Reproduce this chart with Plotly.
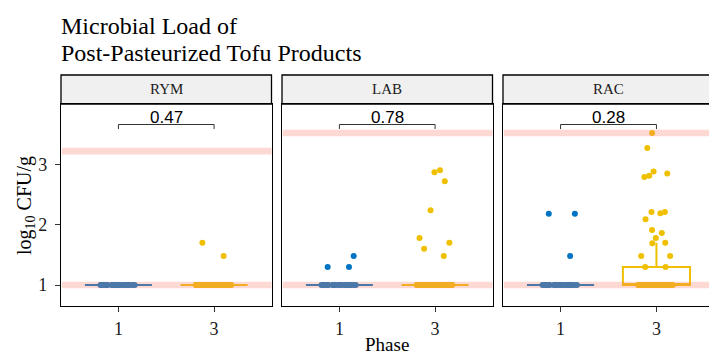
import plotly.graph_objects as go

# ---------------- data (log10 CFU/g) ----------------
PANELS = ["RYM", "LAB", "RAC"]
PHASES = ["1", "3"]
LOD = 1.0

# samples above the detection limit; the rest sit at the LOD
RYM_PHASE1_ABOVE = []
RYM_PHASE3_ABOVE = [1.70, 1.48]
LAB_PHASE1_ABOVE = [1.48, 1.30, 1.30]
LAB_PHASE3_ABOVE = [2.87, 2.90, 2.72, 2.24, 1.78, 1.70, 1.60, 1.48]
RAC_PHASE1_ABOVE = [2.18, 2.18, 1.48]
RAC_PHASE3_ABOVE = [3.52, 3.27, 2.81, 2.85, 2.88, 2.79, 2.09, 2.19, 2.21, 2.21,
                    1.91, 1.86, 1.78, 1.70, 1.69, 1.48, 1.48, 1.30, 1.30]

# number of samples at the LOD
RYM_PHASE1_AT_LOD = 30
RYM_PHASE3_AT_LOD = 68
LAB_PHASE1_AT_LOD = 27
LAB_PHASE3_AT_LOD = 62
RAC_PHASE1_AT_LOD = 27
RAC_PHASE3_AT_LOD = 51

P_VALUES = ["0.47", "0.78", "0.28"]
UPPER_REF = [3.22, 3.52, 3.52]
LOWER_REF = [1.0, 1.0, 1.0]
Y_TICKS = [1, 2, 3]

ABOVE = {
    "RYM": (RYM_PHASE1_ABOVE, RYM_PHASE3_ABOVE),
    "LAB": (LAB_PHASE1_ABOVE, LAB_PHASE3_ABOVE),
    "RAC": (RAC_PHASE1_ABOVE, RAC_PHASE3_ABOVE),
}
AT_LOD = {
    "RYM": (RYM_PHASE1_AT_LOD, RYM_PHASE3_AT_LOD),
    "LAB": (LAB_PHASE1_AT_LOD, LAB_PHASE3_AT_LOD),
    "RAC": (RAC_PHASE1_AT_LOD, RAC_PHASE3_AT_LOD),
}

# ---------------- style / layout ----------------
W, H = 709, 356
COLORS = ["#0073C2", "#EFC000"]
SERIF = "Liberation Serif, Times New Roman, serif"
SANS = "Liberation Sans, Arial, sans-serif"
PANEL_PX = [(61, 271.5), (282, 492.5), (503, 714)]
TOP_PX, BOT_PX = 104, 306
STRIP_TOP_PX = 75
YRANGE = [0.652, 4.0]
XSPAN = 2.2
JITTER = 0.55

def px_x(p):
    return p / W

def px_y(p):
    return 1 - p / H

fig = go.Figure()
shapes = []
annotations = []

for i, name in enumerate(PANELS):
    k = "" if i == 0 else str(i + 1)
    xa, ya = "x" + k, "y" + k
    x0p, x1p = PANEL_PX[i]
    right = min(x1p, W)
    xr = [-0.6, -0.6 + XSPAN * (right - x0p) / (x1p - x0p)]

    for j, ph in enumerate(PHASES):
        above = ABOVE[name][j]
        at_lod = [LOD] * AT_LOD[name][j]
        vals = above + at_lod
        # box (statistics from all samples; outlier markers hidden)
        fig.add_trace(go.Box(
            x=[ph] * len(vals), y=vals, xaxis=xa, yaxis=ya,
            boxpoints="outliers", width=0.7, whiskerwidth=0,
            fillcolor="rgba(0,0,0,0)",
            marker=dict(opacity=0, size=1),
            line=dict(color=COLORS[j], width=2),
            showlegend=False, hoverinfo="y"))
        # jittered sample points (two groups so that sparse points spread too)
        for grp in (at_lod, above):
            if not grp:
                continue
            fig.add_trace(go.Box(
                x=[ph] * len(grp), y=grp, xaxis=xa, yaxis=ya,
                boxpoints="all", jitter=JITTER, pointpos=0, width=0.7,
                whiskerwidth=0, fillcolor="rgba(0,0,0,0)",
                line=dict(color="rgba(0,0,0,0)", width=0),
                marker=dict(color=COLORS[j], size=6, opacity=1, line=dict(width=0)),
                showlegend=False, hoverinfo="y"))

    # significance bracket
    fig.add_trace(go.Scatter(
        x=[PHASES[0], PHASES[0], PHASES[1], PHASES[1]],
        y=[3.585, 3.66, 3.66, 3.585], xaxis=xa, yaxis=ya,
        mode="lines", line=dict(color="#333333", width=1),
        showlegend=False, hoverinfo="skip"))
    annotations.append(dict(
        x=0.5, y=3.66, xref=xa, yref=ya, text=P_VALUES[i], showarrow=False,
        xanchor="center", yanchor="bottom", yshift=-4,
        font=dict(family=SANS, size=17, color="black")))

    # reference bands
    for v in (LOWER_REF[i], UPPER_REF[i]):
        shapes.append(dict(type="rect", xref=xa + " domain", yref=ya,
                           x0=0.004, x1=1, y0=v - 0.055, y1=v + 0.055,
                           fillcolor="rgb(250,128,114)", opacity=0.3,
                           line=dict(width=0), layer="above"))

    # strip
    shapes.append(dict(type="rect", xref="paper", yref="paper",
                       x0=px_x(x0p), x1=px_x(x1p), y0=px_y(TOP_PX), y1=px_y(STRIP_TOP_PX),
                       fillcolor="#F0F0F0", line=dict(color="black", width=1.3),
                       layer="below"))
    annotations.append(dict(x=px_x((x0p + x1p) / 2), y=px_y((TOP_PX + STRIP_TOP_PX) / 2),
                            xref="paper", yref="paper", text=name, showarrow=False,
                            xanchor="center", yanchor="middle",
                            font=dict(family=SERIF, size=15, color="#1a1a1a")))

    fig.update_layout(**{
        "xaxis" + k: dict(
            domain=[px_x(x0p), min(px_x(x1p), 1.0)], anchor=ya,
            type="category", categoryorder="array", categoryarray=PHASES,
            range=xr, showgrid=False, zeroline=False,
            showline=True, linecolor="black", linewidth=1.3, mirror=True,
            ticks="outside", ticklen=5, tickcolor="#333333", tickwidth=1,
            ticklabelstandoff=1,
            tickfont=dict(family=SERIF, size=18, color="#1a1a1a")),
        "yaxis" + k: dict(
            domain=[px_y(BOT_PX), px_y(TOP_PX)], anchor=xa, range=YRANGE,
            showgrid=False, zeroline=False,
            showline=True, linecolor="black", linewidth=1.3,
            mirror=(i < 2),
            tickmode="array", tickvals=Y_TICKS if i == 0 else [],
            showticklabels=(i == 0),
            ticks="outside" if i == 0 else "", ticklen=5, tickcolor="#333333",
            ticklabelstandoff=4,
            tickfont=dict(family=SERIF, size=18, color="#1a1a1a")),
    })

# titles
annotations.append(dict(x=px_x(59), y=px_y(26), xref="paper", yref="paper",
                        xanchor="left", yanchor="middle", showarrow=False,
                        text="Microbial Load of",
                        font=dict(family=SERIF, size=24, color="black")))
annotations.append(dict(x=px_x(59), y=px_y(53), xref="paper", yref="paper",
                        xanchor="left", yanchor="middle", showarrow=False,
                        text="Post-Pasteurized Tofu Products",
                        font=dict(family=SERIF, size=24, color="black")))
annotations.append(dict(x=px_x(387), y=px_y(344), xref="paper", yref="paper",
                        xanchor="center", yanchor="middle",
                        showarrow=False, text="Phase",
                        font=dict(family=SERIF, size=19, color="black")))
annotations.append(dict(x=px_x(25), y=px_y(206), xref="paper", yref="paper",
                        xanchor="center", yanchor="middle",
                        showarrow=False, textangle=-90,
                        text="log<sub>10</sub> CFU/g",
                        font=dict(family=SERIF, size=20, color="black")))

fig.update_layout(width=W, height=H, margin=dict(l=0, r=0, t=0, b=0),
                  paper_bgcolor="white", plot_bgcolor="white",
                  boxmode="overlay", shapes=shapes, annotations=annotations,
                  showlegend=False)

fig.write_html("out.html")
